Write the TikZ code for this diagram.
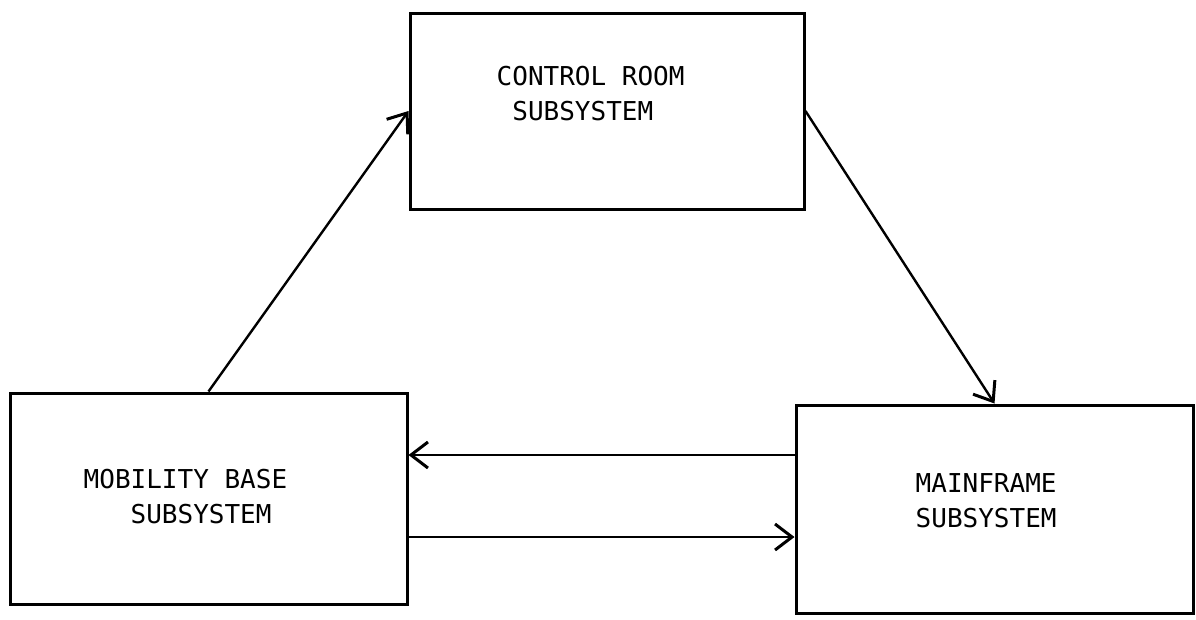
\documentclass[tikz,border=0pt]{standalone}
\usepackage{fontspec}
\setmonofont{DejaVu Sans Mono}
\usetikzlibrary{positioning,arrows.meta}

\tikzset{
 subsys/.style={draw, line width=3pt, inner sep=0pt},
 subsys text/.style={font=\ttfamily\fontsize{26}{35}\selectfont, align=left, inner sep=0pt},
 flow/.style={line width=2.4pt, -{Straight Barb[length=17pt,width=26pt,line width=3pt]}},
}

\begin{document}
\begin{tikzpicture}[x=1pt,y=-1pt]
 \useasboundingbox (0,0) rectangle (1196,619);
 % the three subsystems
 \node [subsys, minimum width=394pt, minimum height=196pt] (control) at (607,111) {};
 \node [subsys, minimum width=397pt, minimum height=211pt] (mobility) at (208.5,498.5) {};
 \node [subsys, minimum width=397pt, minimum height=208pt] (mainframe) at (994.5,509) {};
 \node [subsys text, below right=54pt and 88pt of control.north west] (control_text)
  {CONTROL ROOM\\\phantom{C}SUBSYSTEM};
 \node [subsys text, below right=77pt and 75pt of mobility.north west] (mobility_text)
  {MOBILITY BASE\\\phantom{MOB}SUBSYSTEM};
 \node [subsys text, below right=70pt and 121pt of mainframe.north west] (mainframe_text)
  {MAINFRAME\\SUBSYSTEM};
 % data flow
 \draw [flow] (mobility.north) -- (control.west);
 \draw [flow] (control.east) -- (mainframe.north);
 \draw [flow] ([yshift=54pt]mainframe.west) -- ([yshift=54pt]mainframe.west -| mobility.east);
 \draw [flow] ([yshift=-38.5pt]mobility.east) -- ([yshift=-38.5pt]mobility.east -| mainframe.west);
\end{tikzpicture}
\end{document}
